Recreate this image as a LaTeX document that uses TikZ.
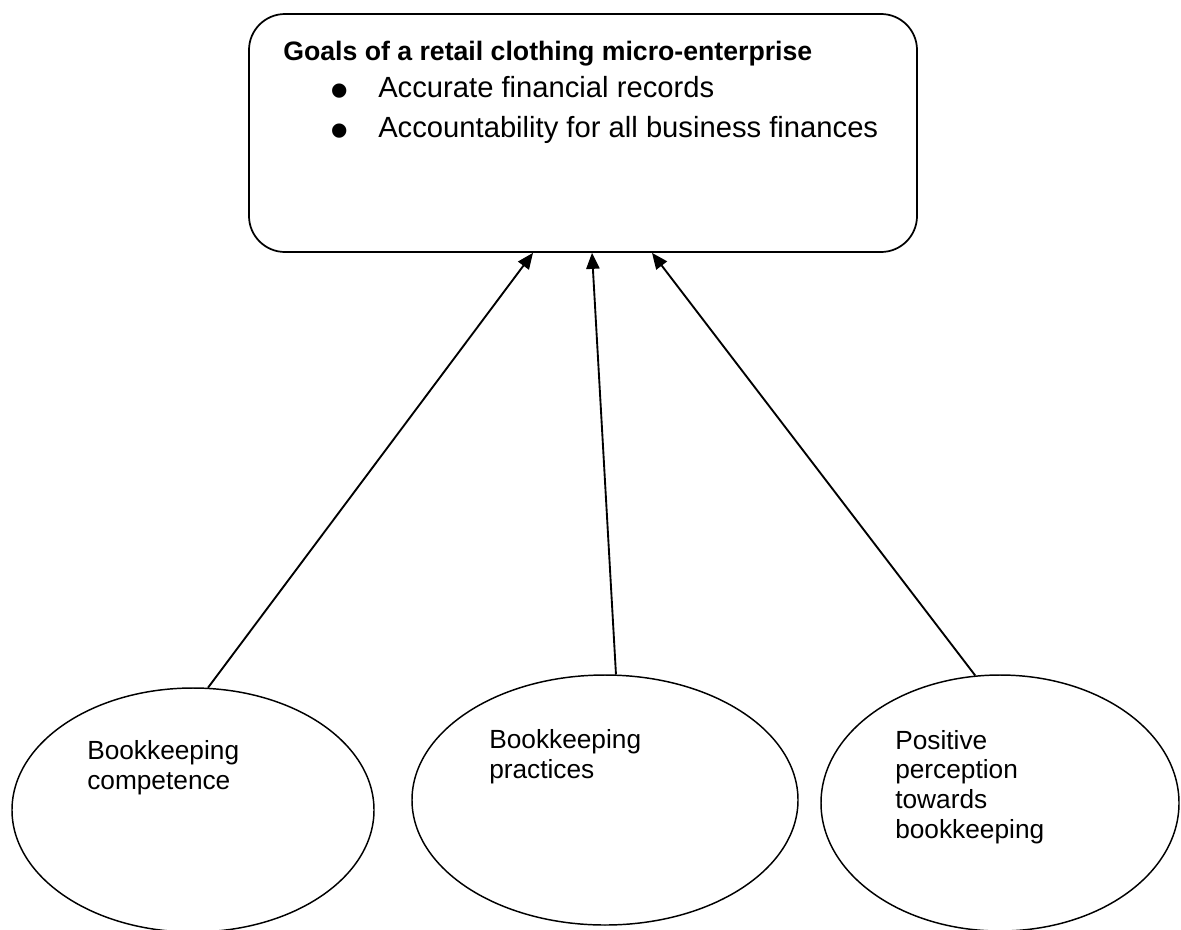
\documentclass[tikz,border=0pt]{standalone}
\usepackage{fontspec}
\setmainfont{Liberation Sans}
\usetikzlibrary{shapes.geometric,arrows.meta}
\newcommand{\bigbullet}{\raisebox{-8.9pt}[0pt][0pt]{\scalebox{1.8}{\textbullet}}}
\tikzset{
  x=0.75pt, y=-0.75pt,
  goalbox/.style={draw, line width=1.3pt, rounded corners=27pt, inner sep=0pt,
    minimum width=501pt, minimum height=178.5pt},
  bubble/.style={draw, ellipse, line width=1.1pt, inner sep=0pt},
  bubbletext/.style={anchor=base west, inner sep=0pt, align=left,
    font=\fontsize{19.7}{22.2}\selectfont},
  titletext/.style={anchor=base west, inner sep=0pt, font=\fontsize{20}{24}\selectfont\bfseries},
  bullettext/.style={anchor=base west, inner sep=0pt, font=\fontsize{21.9}{30}\selectfont},
  link/.style={line width=1.4pt, -{Triangle[length=12pt,width=10pt]}}
}
\begin{document}
\begin{tikzpicture}
\fill[white] (0,0) rectangle (1181,929);
\clip (0,0) rectangle (1181,929);
\useasboundingbox (0,0) rectangle (1181,929);

% top box
\node[goalbox] (goal) at (583,133) {};
\node[titletext] (title) at (283,60) {Goals of a retail clothing micro-enterprise};
\node[bullettext] (b1) at (330,97) {\makebox[36pt][l]{\bigbullet}Accurate financial records};
\node[bullettext] (b2) at (330,137) {\makebox[36pt][l]{\bigbullet}Accountability for all business finances};

% ellipses
\node[bubble, minimum width=271.5pt, minimum height=183pt] (e1) at (193,810) {};
\node[bubble, minimum width=289.5pt, minimum height=187.5pt] (e2) at (605,800) {};
\node[bubble, minimum width=268.5pt, minimum height=192pt] (e3) at (1000,803) {};

\node[bubbletext] (t1) at (87,789) {Bookkeeping\\competence};
\node[bubbletext] (t2) at (489,778) {Bookkeeping\\practices};
\node[bubbletext] (t3) at (895,838) {Positive\\perception\\towards\\bookkeeping};

% connectors
\coordinate (p1) at ([xshift=-37.5pt]goal.south);
\coordinate (p2) at ([xshift=6.75pt]goal.south);
\coordinate (p3) at ([xshift=51.75pt]goal.south);
\draw[link] (e1.83) -- (p1);
\draw[link] (e2.85) -- (p2);
\draw[link] (e3.101) -- (p3);
\end{tikzpicture}
\end{document}
